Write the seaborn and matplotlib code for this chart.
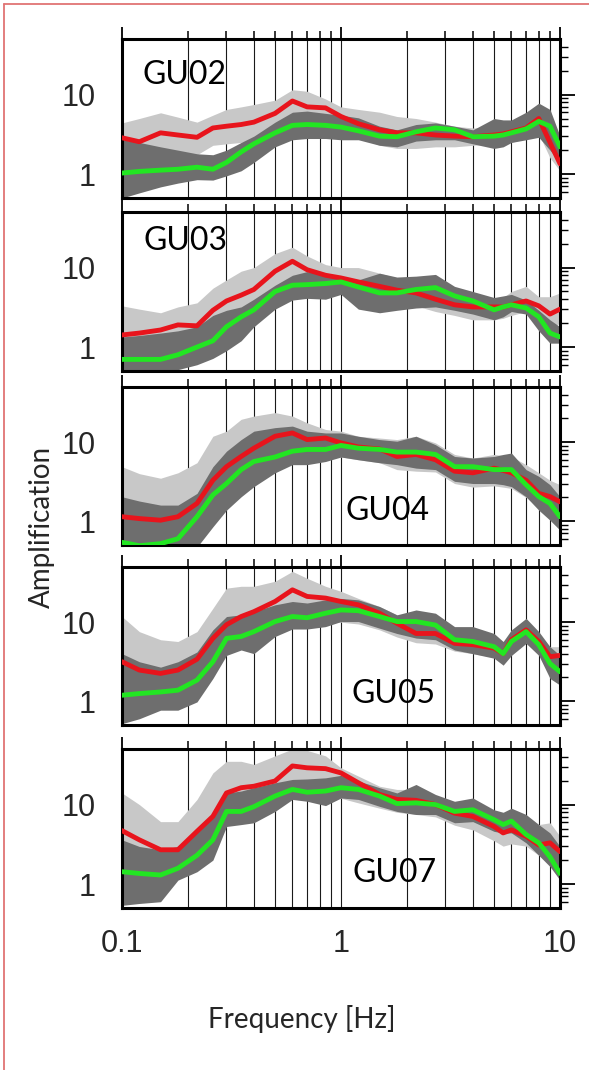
import matplotlib
matplotlib.use("Agg")
import matplotlib.pyplot as plt
from matplotlib.lines import Line2D
from matplotlib.ticker import FixedLocator, FixedFormatter, NullFormatter
import seaborn as sns

# ---------------- data ----------------
freq = [0.1, 0.12, 0.15, 0.18, 0.22, 0.26, 0.3, 0.35, 0.4, 0.5, 0.6, 0.7, 0.85, 1.0,
        1.2, 1.5, 1.8, 2.2, 2.7, 3.3, 4.0, 5.0, 5.5, 6.0, 7.0, 8.0, 9.0, 10.0]

stations = ["GU02", "GU03", "GU04", "GU05", "GU07"]

gu02_red = [2.86, 2.55, 3.3, 3.1, 2.9, 3.8, 4.0, 4.2, 4.5, 5.8, 8.3, 7.0, 6.8, 5.3,
            4.3, 3.6, 3.3, 3.3, 3.1, 3.0, 2.95, 3.1, 3.2, 3.4, 3.8, 5.0, 2.5, 1.35]
gu02_red_lo = [1.9, 1.7, 2.0, 1.9, 1.75, 2.3, 2.4, 2.5, 2.7, 3.5, 5.0, 5.0, 4.6, 3.8,
               2.9, 2.3, 2.1, 2.1, 2.2, 2.2, 2.3, 2.4, 2.4, 2.5, 2.8, 3.2, 1.6, 1.1]
gu02_red_hi = [4.4, 5.0, 5.9, 5.2, 4.5, 5.5, 6.5, 7.0, 7.5, 8.5, 11.5, 11.0, 8.8, 7.0,
               6.5, 6.0, 5.3, 5.0, 4.5, 4.0, 3.8, 3.9, 4.2, 4.5, 5.5, 7.0, 5.5, 2.5]
gu02_grn = [1.03, 1.08, 1.12, 1.15, 1.22, 1.15, 1.4, 1.9, 2.4, 3.3, 4.1, 4.2, 4.1, 3.9,
            3.5, 3.0, 2.95, 3.4, 3.8, 3.6, 2.95, 3.0, 3.1, 3.3, 3.7, 4.6, 4.0, 2.2]
gu02_grn_lo = [0.5, 0.58, 0.69, 0.77, 0.85, 0.84, 0.95, 1.1, 1.4, 2.2, 2.7, 2.8, 2.8, 2.7,
               2.7, 2.3, 2.2, 2.6, 2.7, 2.7, 2.4, 2.1, 2.2, 2.5, 2.7, 2.9, 2.0, 1.4]
gu02_grn_hi = [2.7, 2.5, 2.2, 2.0, 1.8, 1.75, 2.0, 2.5, 3.0, 4.5, 6.0, 6.2, 5.8, 5.5,
               5.1, 4.0, 3.6, 4.2, 4.4, 4.0, 3.6, 5.0, 4.8, 4.8, 6.0, 7.8, 6.5, 3.0]

gu03_red = [1.42, 1.5, 1.64, 1.9, 1.85, 2.9, 3.8, 4.5, 5.3, 9.0, 12.0, 9.4, 8.0, 7.4,
            6.6, 5.8, 5.2, 4.8, 4.0, 3.4, 3.2, 3.2, 3.2, 3.4, 3.8, 3.3, 2.6, 3.0]
gu03_red_lo = [0.9, 0.95, 1.0, 1.15, 1.2, 1.8, 2.3, 2.8, 3.3, 5.0, 7.0, 6.0, 5.5, 5.0,
               4.5, 4.0, 3.6, 3.3, 2.8, 2.5, 2.2, 2.2, 2.3, 2.5, 2.8, 2.0, 1.7, 2.0]
gu03_red_hi = [3.3, 3.0, 2.7, 3.2, 3.6, 5.5, 7.0, 9.0, 10.0, 15.0, 18.0, 14.0, 10.9, 10.0,
               10.0, 8.5, 7.4, 6.5, 5.8, 4.5, 4.1, 3.9, 4.2, 5.0, 5.8, 4.3, 4.3, 4.8]
gu03_grn = [0.7, 0.7, 0.7, 0.8, 1.0, 1.2, 1.8, 2.4, 2.94, 5.0, 6.0, 6.1, 6.3, 6.6,
            5.7, 4.8, 4.8, 5.3, 5.6, 4.4, 3.8, 2.94, 3.2, 3.4, 3.1, 2.4, 1.5, 1.34]
gu03_grn_lo = [0.45, 0.45, 0.48, 0.52, 0.6, 0.72, 0.9, 1.2, 1.8, 3.0, 3.9, 4.1, 4.0, 4.6,
               3.0, 2.7, 2.9, 3.1, 3.2, 2.9, 2.6, 2.2, 2.4, 2.8, 2.6, 1.6, 1.12, 1.12]
gu03_grn_hi = [1.34, 1.4, 1.5, 1.6, 1.8, 2.5, 2.9, 3.2, 4.0, 6.0, 8.0, 8.9, 8.2, 7.7,
               7.0, 8.5, 7.6, 7.8, 8.2, 5.8, 5.0, 4.2, 4.4, 4.6, 3.9, 2.9, 2.2, 1.8]

gu04_red = [1.14, 1.08, 1.03, 1.14, 1.68, 3.3, 4.9, 6.6, 8.4, 11.9, 13.1, 10.8, 11.3, 9.8,
            8.7, 8.2, 6.6, 7.0, 6.0, 4.3, 4.1, 4.7, 4.4, 4.1, 3.3, 2.25, 2.05, 1.76]
gu04_red_lo = [0.6, 0.6, 0.55, 0.6, 0.8, 1.5, 2.2, 3.0, 4.0, 5.5, 6.5, 6.5, 6.5, 6.5,
               6.0, 5.5, 4.5, 4.3, 4.2, 3.0, 2.7, 2.8, 2.7, 2.6, 2.0, 1.5, 1.2, 0.9]
gu04_red_hi = [4.9, 4.0, 3.5, 4.1, 5.5, 11.9, 13.8, 19.5, 21.4, 23.7, 21.4, 17.6, 14.5, 13.8,
               11.9, 11.3, 10.8, 11.9, 9.8, 7.0, 6.3, 7.0, 6.8, 6.6, 5.2, 4.1, 3.3, 2.9]
gu04_grn = [0.54, 0.49, 0.52, 0.6, 1.14, 2.15, 3.0, 4.5, 5.7, 6.5, 7.7, 8.1, 8.1, 9.1,
            8.4, 8.1, 7.5, 7.5, 7.0, 4.9, 4.9, 4.5, 4.5, 4.5, 2.9, 2.05, 1.68, 1.14]
gu04_grn_lo = [0.4, 0.4, 0.4, 0.45, 0.47, 0.85, 1.38, 2.04, 2.74, 4.1, 5.2, 5.2, 5.7, 6.5,
               6.0, 5.5, 5.2, 4.7, 4.5, 3.2, 3.0, 3.0, 2.9, 2.74, 2.04, 1.38, 1.03, 0.77]
gu04_grn_hi = [2.04, 1.8, 1.6, 1.6, 2.25, 4.9, 7.7, 10.8, 13.8, 15.3, 16.0, 13.8, 13.1, 13.1,
               11.9, 10.8, 10.3, 11.9, 9.3, 6.6, 6.3, 6.6, 7.0, 7.3, 4.5, 3.7, 2.9, 2.04]

gu05_red = [3.16, 2.48, 2.25, 2.48, 3.4, 6.25, 9.3, 11.8, 13.6, 18.3, 25.7, 21.2, 20.2, 18.3,
            16.6, 13.0, 9.7, 7.2, 7.2, 5.4, 5.2, 4.7, 4.0, 6.0, 8.0, 5.7, 3.66, 3.8]
gu05_red_lo = [1.0, 1.0, 1.0, 1.0, 1.3, 2.5, 4.0, 5.0, 6.0, 8.0, 11.0, 10.0, 10.0, 10.0,
               9.5, 8.0, 6.5, 5.5, 5.3, 4.3, 4.0, 3.6, 3.2, 4.2, 5.5, 4.0, 2.5, 2.8]
gu05_red_hi = [11.8, 7.6, 6.0, 5.7, 7.6, 15.0, 27.0, 28.5, 28.5, 33.0, 44.0, 36.0, 28.5, 24.6,
               20.0, 15.8, 12.4, 10.7, 9.2, 8.0, 7.2, 5.7, 5.2, 8.0, 10.2, 6.9, 4.9, 4.9]
gu05_grn = [1.19, 1.25, 1.31, 1.38, 1.85, 3.16, 6.25, 6.6, 7.6, 10.2, 11.8, 11.4, 13.0, 14.3,
            14.0, 11.8, 10.2, 10.2, 9.2, 6.0, 5.7, 4.9, 4.0, 5.7, 7.6, 5.2, 3.0, 2.36]
gu05_grn_lo = [0.52, 0.6, 0.77, 0.77, 0.98, 1.94, 3.8, 4.45, 4.0, 6.6, 8.2, 8.2, 8.8, 10.2,
               10.2, 8.4, 7.2, 6.3, 6.0, 4.45, 4.0, 3.5, 2.86, 3.8, 5.4, 3.8, 1.94, 1.6]
gu05_grn_hi = [4.0, 3.16, 2.7, 3.16, 4.2, 8.0, 11.8, 12.4, 13.6, 16.6, 18.3, 17.5, 19.2, 20.0,
               19.2, 15.8, 12.4, 14.3, 13.0, 8.8, 8.8, 7.2, 5.7, 8.0, 11.2, 7.6, 4.9, 3.8]

gu07_red = [4.7, 3.6, 2.7, 2.7, 4.6, 7.1, 14.0, 16.3, 17.0, 19.8, 30.6, 29.0, 28.3, 25.0,
            18.8, 13.4, 11.6, 11.3, 10.0, 7.8, 7.1, 5.3, 4.4, 4.8, 4.0, 3.1, 3.3, 2.56]
gu07_red_lo = [1.5, 1.4, 1.3, 1.4, 2.0, 3.5, 6.0, 7.0, 7.5, 9.0, 13.0, 13.0, 12.0, 12.0,
               10.5, 9.0, 8.0, 7.5, 7.0, 5.5, 4.8, 3.5, 3.0, 3.2, 3.0, 2.3, 2.0, 1.5]
gu07_red_hi = [14.0, 10.0, 6.1, 6.1, 11.6, 25.0, 35.0, 35.0, 32.0, 41.0, 50.0, 48.0, 41.0, 29.0,
               22.8, 17.0, 15.5, 15.5, 12.8, 10.5, 10.0, 7.1, 7.0, 7.5, 7.1, 5.6, 5.9, 4.0]
gu07_grn = [1.43, 1.36, 1.3, 1.58, 2.3, 3.6, 8.2, 8.2, 9.4, 12.8, 15.5, 14.3, 14.8, 16.3,
            15.5, 12.8, 10.3, 10.5, 10.0, 8.2, 8.6, 6.45, 5.6, 6.2, 4.2, 3.3, 2.2, 1.36]
gu07_grn_lo = [0.54, 0.57, 0.6, 1.12, 1.43, 2.0, 5.3, 5.6, 5.9, 8.2, 11.6, 11.0, 9.7, 12.1,
               11.6, 9.5, 8.2, 7.5, 7.5, 5.9, 6.1, 4.6, 4.4, 4.4, 3.3, 2.3, 1.66, 1.12]
gu07_grn_hi = [3.6, 2.97, 2.7, 2.97, 4.8, 6.8, 14.0, 14.8, 16.3, 18.8, 20.7, 21.0, 21.7, 23.3,
               19.8, 16.3, 14.0, 17.9, 13.4, 11.0, 12.1, 8.6, 8.0, 9.0, 7.5, 5.6, 4.4, 2.97]

x_ticks = [0.1, 1, 10]
x_tick_labels = ["0.1", "1", "10"]
y_ticks = [1, 10]
y_tick_labels = ["1", "10"]
x_minor = [0.2, 0.3, 0.4, 0.5, 0.6, 0.7, 0.8, 0.9, 2, 3, 4, 5, 6, 7, 8, 9]
y_minor = [0.6, 0.7, 0.8, 0.9, 2, 3, 4, 5, 6, 7, 8, 9, 20, 30, 40]

series = {
    "GU02": (gu02_red, gu02_red_lo, gu02_red_hi, gu02_grn, gu02_grn_lo, gu02_grn_hi),
    "GU03": (gu03_red, gu03_red_lo, gu03_red_hi, gu03_grn, gu03_grn_lo, gu03_grn_hi),
    "GU04": (gu04_red, gu04_red_lo, gu04_red_hi, gu04_grn, gu04_grn_lo, gu04_grn_hi),
    "GU05": (gu05_red, gu05_red_lo, gu05_red_hi, gu05_grn, gu05_grn_lo, gu05_grn_hi),
    "GU07": (gu07_red, gu07_red_lo, gu07_red_hi, gu07_grn, gu07_grn_lo, gu07_grn_hi),
}

# ---------------- styling ----------------
sns.set_style("white")
plt.rcParams["font.family"] = ["Liberation Sans", "DejaVu Sans"]

W, H = 589, 1070
fig = plt.figure(figsize=(W / 100, H / 100), dpi=100)

panels_px = [(39, 198), (212, 371), (387, 545), (567, 725), (749, 908)]
left_px, right_px = 122, 560
label_pos = {
    "GU02": (0.046, 0.72),
    "GU03": (0.050, 0.76),
    "GU04": (0.511, 0.158),
    "GU05": (0.525, 0.14),
    "GU07": (0.527, 0.164),
}

LIGHT = "#c8c8c8"
DARK = "#6e6e6e"
RED = "#e8141c"
GREEN = "#22e622"
TICK_FONT = ["Liberation Sans", "DejaVu Sans"]
TEXT_FONT = ["Lato", "DejaVu Sans"]

for i, (st, (top, bot)) in enumerate(zip(stations, panels_px)):
    ax = fig.add_axes([left_px / W, 1 - bot / H, (right_px - left_px) / W, (bot - top) / H])
    red, red_lo, red_hi, grn, grn_lo, grn_hi = series[st]
    ax.set_xscale("log")
    ax.set_yscale("log")
    ax.set_xlim(0.1, 10)
    ax.set_ylim(0.5, 50)
    ax.set_axisbelow(True)

    ax.fill_between(freq, red_lo, red_hi, color=LIGHT, lw=0, zorder=1)
    ax.fill_between(freq, grn_lo, grn_hi, color=DARK, lw=0, zorder=2)
    sns.lineplot(x=freq, y=red, ax=ax, color=RED, lw=3.5, estimator=None, sort=False,
                 zorder=3, solid_joinstyle="round", solid_capstyle="round")
    sns.lineplot(x=freq, y=grn, ax=ax, color=GREEN, lw=3.5, estimator=None, sort=False,
                 zorder=4, solid_joinstyle="round", solid_capstyle="round")

    ax.xaxis.set_major_locator(FixedLocator(x_ticks))
    ax.xaxis.set_minor_locator(FixedLocator(x_minor))
    ax.yaxis.set_major_locator(FixedLocator(y_ticks))
    ax.yaxis.set_minor_locator(FixedLocator(y_minor))
    ax.yaxis.set_major_formatter(FixedFormatter(y_tick_labels))
    ax.yaxis.set_minor_formatter(NullFormatter())
    ax.xaxis.set_minor_formatter(NullFormatter())
    if i == len(stations) - 1:
        ax.xaxis.set_major_formatter(FixedFormatter(x_tick_labels))
    else:
        ax.xaxis.set_major_formatter(NullFormatter())

    ax.grid(True, which="both", axis="x", color="#1a1a1a", lw=0.8)
    ax.grid(False, axis="y")

    ax.tick_params(axis="both", which="both", direction="out", top=True, right=True,
                   labeltop=False, labelright=False, color="black")
    ax.tick_params(axis="x", which="major", length=9, width=1.3, labelsize=22, pad=6)
    ax.tick_params(axis="x", which="minor", length=5.5, width=1.1)
    ax.tick_params(axis="y", which="major", length=11, width=1.3, labelsize=22, pad=8)
    ax.tick_params(axis="y", which="minor", length=5.5, width=1.0)
    for lab in ax.get_xticklabels() + ax.get_yticklabels():
        lab.set_family(TICK_FONT)
    for s in ax.spines.values():
        s.set_linewidth(2.2)
        s.set_color("black")
    ax.set_xlabel("")
    ax.set_ylabel("")

    lx, ly = label_pos[st]
    ax.text(lx, ly, st, transform=ax.transAxes, ha="left", va="baseline",
            fontsize=23, family=TEXT_FONT, color="black", zorder=6)

fig.text(42 / W, 1 - 527 / H, "Amplification", rotation=90, ha="center", va="center",
         fontsize=20, family=TEXT_FONT)
fig.text(302 / W, 1 - 1019 / H, "Frequency [Hz]", ha="center", va="center",
         fontsize=20, family=TEXT_FONT)

# outer salmon frame (cut off at right and bottom as in the reference)
frame_col = "#e07474"
fig.add_artist(Line2D([4 / W, 1.0], [1 - 4 / H, 1 - 4 / H], transform=fig.transFigure,
                      color=frame_col, lw=1.3))
fig.add_artist(Line2D([4 / W, 4 / W], [1 - 4 / H, 0.0], transform=fig.transFigure,
                      color=frame_col, lw=1.3))

fig.savefig("out.png", dpi=100, facecolor="white")
